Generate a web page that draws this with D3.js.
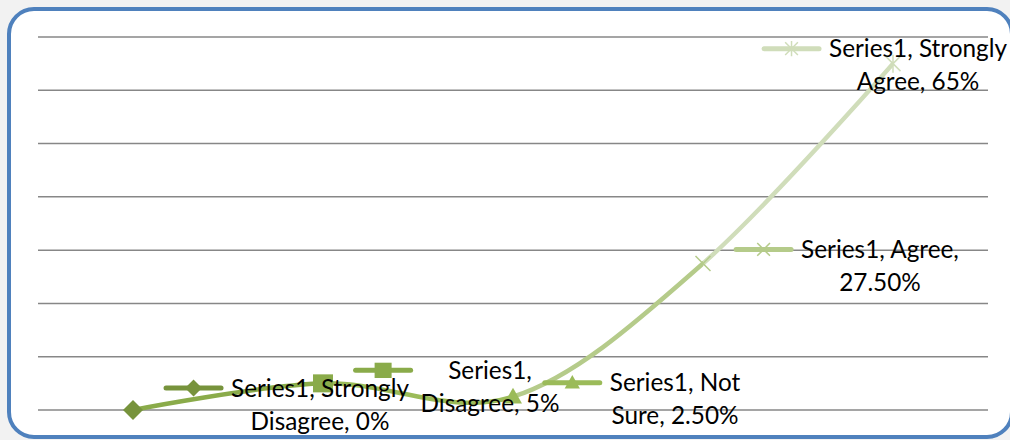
<!DOCTYPE html>
<html><head><meta charset="utf-8">
<script src="https://cdn.jsdelivr.net/npm/d3@7"></script>
<style>
html,body{margin:0;padding:0;background:#f2f2f2;}
svg{display:block;}
</style></head>
<body>
<svg id="chart" width="1010" height="440"></svg>
<script>
// ---- data ----
const categories = ["Strongly Disagree", "Disagree", "Not Sure", "Agree", "Strongly Agree"];
const values = [0, 5, 2.5, 27.5, 65];            // percent
const valueLabels = ["0%", "5%", "2.50%", "27.50%", "65%"];
const seriesName = "Series1";
const yTicks = [0, 10, 20, 30, 40, 50, 60, 70];

// ---- styling / layout ----
const pointColors = ["#77933C", "#8AAB4A", "#9BBB59", "#B5CB8A", "#D0DDBA"];
const markerShapes = ["diamond", "square", "triangle", "x", "star"];
// label block anchor offsets (text center x, first line center y) relative to point
const labelOffsets = [[187, -22], [167, -13], [162, -14], [177, -14], [25, -15]];
// line breaks for label text
const labelLines = [
  [seriesName + ", Strongly", "Disagree, " + valueLabels[0]],
  [seriesName + ",", "Disagree, " + valueLabels[1]],
  [seriesName + ", Not", "Sure, " + valueLabels[2]],
  [seriesName + ", Agree,", valueLabels[3]],
  [seriesName + ", Strongly", "Agree, " + valueLabels[4]]
];

const W = 1010, H = 440;
const svg = d3.select("#chart");
const plot = {left: 38, right: 988, top: 37, bottom: 410};

// card
svg.append("rect").attr("x", 9).attr("y", 9).attr("width", 1003).attr("height", 428)
  .attr("rx", 25).attr("ry", 25).attr("fill", "#ffffff")
  .attr("stroke", "#4F81BD").attr("stroke-width", 4);

const x = d3.scaleBand().domain(categories).range([plot.left, plot.right]);
const y = d3.scaleLinear().domain([0, 70]).range([plot.bottom, plot.top]);
const cx = c => x(c) + x.bandwidth() / 2;

// gridlines
svg.append("g").selectAll("line").data(yTicks).join("line")
  .attr("x1", plot.left).attr("x2", plot.right)
  .attr("y1", d => y(d)).attr("y2", d => y(d))
  .attr("stroke", "#878787").attr("stroke-width", 1.5);

const pts = categories.map((c, i) => [cx(c), y(values[i])]);
const line = d3.line().curve(d3.curveCardinal.tension(0));
const fullPath = line(pts);

const defs = svg.append("defs");
for (let i = 0; i < pts.length - 1; i++) {
  defs.append("clipPath").attr("id", "seg" + i).append("rect")
    .attr("x", pts[i][0]).attr("y", 0)
    .attr("width", pts[i + 1][0] - pts[i][0]).attr("height", H);
  svg.append("path").attr("d", fullPath).attr("fill", "none")
    .attr("stroke", pointColors[i + 1]).attr("stroke-width", 4.5)
    .attr("clip-path", "url(#seg" + i + ")");
}

function drawMarker(g, shape, color, s) {
  if (shape === "diamond") {
    g.append("path").attr("d", `M0,${-s}L${s},0L0,${s}L${-s},0Z`).attr("fill", color);
  } else if (shape === "square") {
    g.append("rect").attr("x", -s).attr("y", -s * 0.9).attr("width", 2 * s).attr("height", 1.8 * s).attr("fill", color);
  } else if (shape === "triangle") {
    g.append("path").attr("d", `M0,${-s}L${s},${s * 0.75}L${-s},${s * 0.75}Z`).attr("fill", color);
  } else if (shape === "x") {
    g.append("path").attr("d", `M${-s},${-s}L${s},${s}M${-s},${s}L${s},${-s}`)
      .attr("stroke", color).attr("stroke-width", 1.5);
  } else if (shape === "star") {
    g.append("path").attr("d", `M${-s},${-s}L${s},${s}M${-s},${s}L${s},${-s}M0,${-s * 1.2}L0,${s * 1.2}`)
      .attr("stroke", color).attr("stroke-width", 1.5);
  }
}
const markerSize = [10, 10, 9, 7.5, 7.5];

pts.forEach((p, i) => {
  const g = svg.append("g").attr("transform", `translate(${p[0]},${p[1]})`);
  drawMarker(g, markerShapes[i], pointColors[i], markerSize[i]);
});

// fit font size to Calibri-like metrics
const fontFamily = "Lato, 'Open Sans', sans-serif";
const probe = svg.append("text").attr("font-family", fontFamily).attr("font-size", 20).text("Series1, Strongly");
const measured = probe.node().getComputedTextLength();
probe.remove();
const fontSize = 20 * 178 / measured;
const lineGap = 33;

pts.forEach((p, i) => {
  const tx = p[0] + labelOffsets[i][0];
  const ty = p[1] + labelOffsets[i][1];
  const g = svg.append("g");
  const t = g.append("text").attr("font-family", fontFamily).attr("font-size", fontSize)
    .attr("fill", "#000").attr("text-anchor", "middle");
  labelLines[i].forEach((ln, k) => {
    t.append("tspan").attr("x", tx).attr("y", ty + k * lineGap).attr("dy", "0.35em").text(ln);
  });
  const widths = t.selectAll("tspan").nodes().map(n => n.getComputedTextLength());
  const blockLeft = tx - d3.max(widths) / 2;
  const kr = blockLeft - 10, kl = kr - 55;
  g.insert("line", "text").attr("x1", kl).attr("x2", kr).attr("y1", ty).attr("y2", ty)
    .attr("stroke", pointColors[i]).attr("stroke-width", 5).attr("stroke-linecap", "round");
  const mg = g.insert("g", "text").attr("transform", `translate(${(kl + kr) / 2},${ty})`);
  drawMarker(mg, markerShapes[i], pointColors[i], markerSize[i] * 0.85);
});
</script>
</body></html>
